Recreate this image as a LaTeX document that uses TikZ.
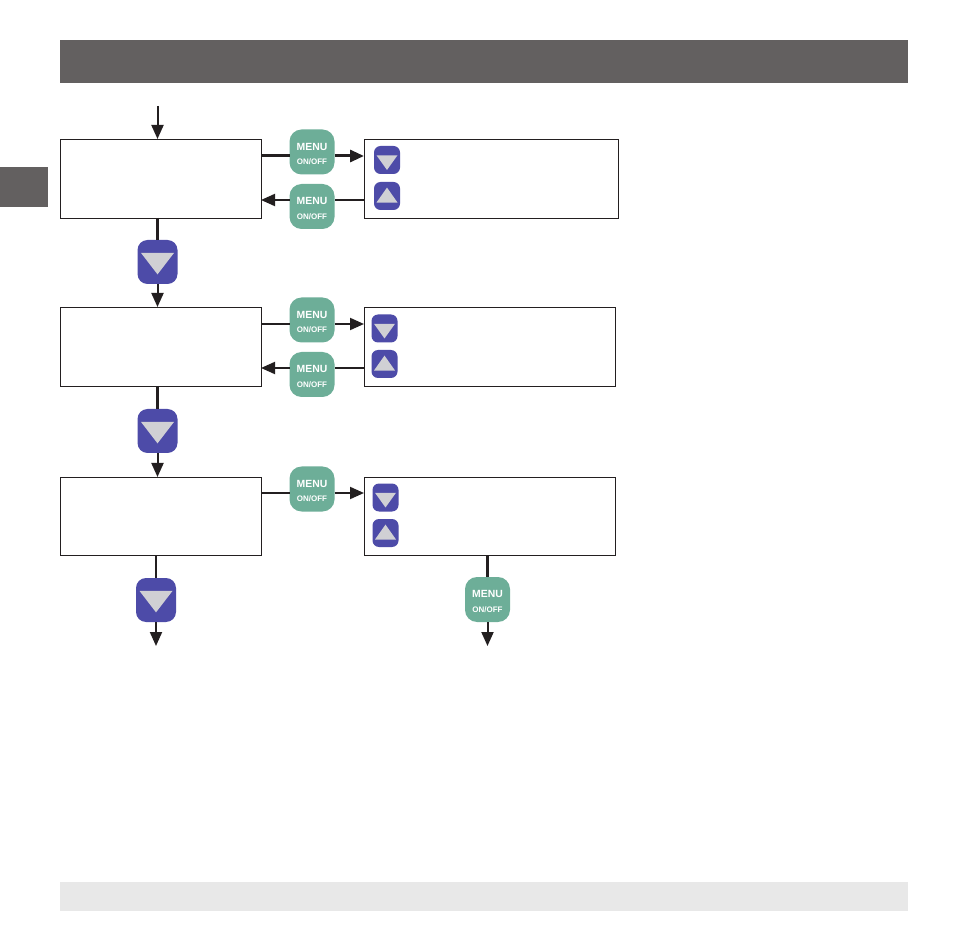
\documentclass[tikz,border=0pt]{standalone}
\usepackage{fontspec}
\setmainfont{Liberation Sans}
\usetikzlibrary{arrows.meta,calc}
\definecolor{hdr}{HTML}{636060}
\definecolor{foot}{HTML}{E8E8E8}
\definecolor{menug}{HTML}{6DAE98}
\definecolor{btnb}{HTML}{4D4BA8}
\definecolor{tri}{HTML}{D0D0D4}
\definecolor{ink}{HTML}{231F20}
\tikzset{
  x=1pt,y=-1pt,
  band/.style={fill=#1,draw=none,inner sep=0pt,outer sep=0pt},
  flowbox/.style={draw=ink,line width=0.9pt,fill=white,inner sep=0pt,outer sep=0pt},
  menubtn/.style={fill=menug,rounded corners=12pt,minimum width=45pt,minimum height=45pt,inner sep=0pt,outer sep=0pt,align=center,text=white,
    font=\fontsize{10.4}{12}\selectfont\bfseries},
  bigbtn/.style={fill=btnb,rounded corners=10pt,minimum width=40pt,minimum height=44pt,inner sep=0pt,outer sep=0pt},
  smallbtn/.style={fill=btnb,rounded corners=6.5pt,minimum width=26pt,minimum height=28pt,inner sep=0pt,outer sep=0pt},
  tridown/.style={path picture={\fill[tri,sharp corners] ($(path picture bounding box.center)+(-#1,#1*0.55)$) -- ($(path picture bounding box.center)+(#1,#1*0.55)$) -- ($(path picture bounding box.center)+(0,-#1*0.75)$) -- cycle;}},
  tridownsm/.style={path picture={\fill[tri,sharp corners] ($(path picture bounding box.center)+(-#1,#1*0.45)$) -- ($(path picture bounding box.center)+(#1,#1*0.45)$) -- ($(path picture bounding box.center)+(0,-#1*0.95)$) -- cycle;}},
  triup/.style={path picture={\fill[tri,sharp corners] ($(path picture bounding box.center)+(-#1,-#1*0.62)$) -- ($(path picture bounding box.center)+(#1,-#1*0.62)$) -- ($(path picture bounding box.center)+(0,#1*0.8)$) -- cycle;}},
  flow/.style={draw=ink,line width=#1,-{Triangle[length=14pt,width=12pt]}},
  flow/.default=2pt,
  plain/.style={draw=ink,line width=#1},
  plain/.default=2pt,
}
\newcommand{\menulabel}{\rule{0pt}{12.5pt}\raisebox{1pt}{MENU}\\[1.5pt]{\fontsize{8}{9}\selectfont ON/OFF}}
\begin{document}
\begin{tikzpicture}
\useasboundingbox (0,0) rectangle (954,941);
% bands
\node[band=hdr,minimum width=848pt,minimum height=43pt] (header) at (484,61.5) {};
\node[band=hdr,minimum width=48pt,minimum height=40pt] (tab) at (24,187) {};
\node[band=foot,minimum width=848pt,minimum height=29pt] (footer) at (484,896.5) {};
% left boxes
\node[flowbox,minimum width=201pt,minimum height=79pt] (b1) at (160.5,178.5) {};
\node[flowbox,minimum width=201pt,minimum height=79pt] (b2) at (160.5,346.5) {};
\node[flowbox,minimum width=201pt,minimum height=78pt] (b3) at (160.5,516) {};
% right boxes
\node[flowbox,minimum width=254pt,minimum height=79pt] (a1) at (491,178.5) {};
\node[flowbox,minimum width=251pt,minimum height=79pt] (a2) at (489.5,346.5) {};
\node[flowbox,minimum width=251pt,minimum height=78pt] (a3) at (489.5,516) {};
% menu buttons
\node[menubtn] (m1) at (312,152) {\menulabel};
\node[menubtn] (m2) at (312,206.5) {\menulabel};
\node[menubtn] (m3) at (312,320) {\menulabel};
\node[menubtn] (m4) at (312,374.5) {\menulabel};
\node[menubtn] (m5) at (312,489) {\menulabel};
\node[menubtn] (m6) at (487.5,599.5) {\menulabel};
% big buttons
\node[bigbtn,tridown=16.5pt] (d1) at (157.5,262) {};
\node[bigbtn,tridown=16.5pt] (d2) at (157.5,431) {};
\node[bigbtn,tridown=16.5pt] (d3) at (156,600) {};
% small buttons
\node[smallbtn,tridownsm=10.5pt] (s1) at (387,160) {};
\node[smallbtn,triup=10.5pt] (s2) at (387,196) {};
\node[smallbtn,tridownsm=10.5pt] (s3) at (384.5,328.5) {};
\node[smallbtn,triup=10.5pt] (s4) at (384.5,364) {};
\node[smallbtn,tridownsm=10.5pt] (s5) at (385.5,497.5) {};
\node[smallbtn,triup=10.5pt] (s6) at (385.5,533) {};
% free ends
\coordinate (start) at (157.5,106);
\coordinate (end1) at (156,646);
\coordinate (end2) at (487.5,646);
% connectors
\draw[flow] (start) -- (start |- b1.north);
\draw[plain=3pt] (d1 |- b1.south) -- (d1.north);
\draw[flow] (d1.south) -- (d1 |- b2.north);
\draw[plain=3pt] (d2 |- b2.south) -- (d2.north);
\draw[flow] (d2.south) -- (d2 |- b3.north);
\draw[plain] (d3 |- b3.south) -- (d3.north);
\draw[flow] (d3.south) -- (end1);
% row 1
\draw[plain=3pt] (b1.east |- 0,156) -- (m1.west |- 0,156);
\draw[flow=3pt] (m1.east |- 0,156) -- (a1.west |- 0,156);
\draw[plain] (a1.west |- 0,200) -- (m2.east |- 0,200);
\draw[flow] (m2.west |- 0,200) -- (b1.east |- 0,200);
% row 2
\draw[plain] (b2.east |- 0,324) -- (m3.west |- 0,324);
\draw[flow] (m3.east |- 0,324) -- (a2.west |- 0,324);
\draw[plain] (a2.west |- 0,368) -- (m4.east |- 0,368);
\draw[flow] (m4.west |- 0,368) -- (b2.east |- 0,368);
% row 3
\draw[plain] (b3.east |- 0,493) -- (m5.west |- 0,493);
\draw[flow] (m5.east |- 0,493) -- (a3.west |- 0,493);
\draw[plain=3pt] (m6 |- a3.south) -- (m6.north);
\draw[flow] (m6.south) -- (end2);
\end{tikzpicture}
\end{document}
